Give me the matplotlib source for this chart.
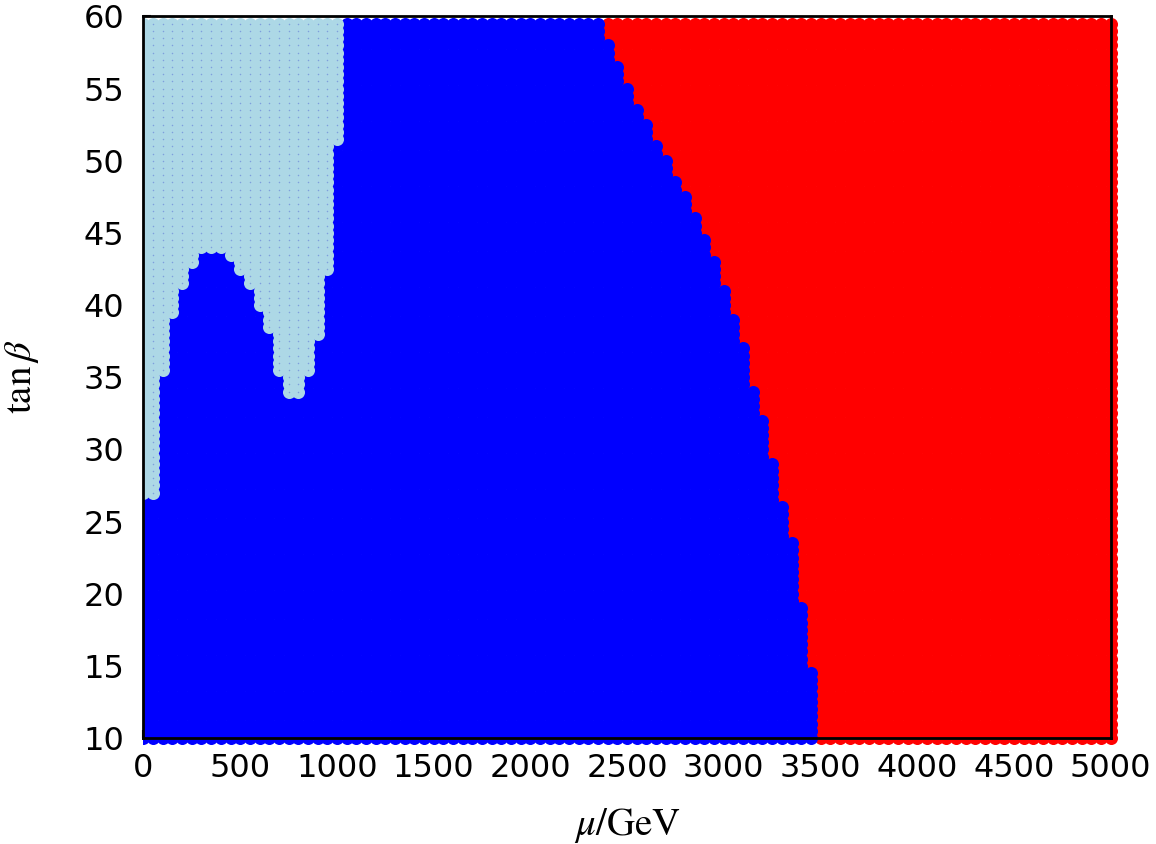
import numpy as np
import matplotlib.pyplot as plt
from matplotlib.patches import Rectangle

plt.rcParams['font.family'] = ['DejaVu Sans']
plt.rcParams['mathtext.fontset'] = 'stix'

# scan grid
mu_grid = np.arange(0, 5001, 50)
tanb_grid = np.arange(10, 60, 0.5)

# light blue region: lowest tan(beta) per mu column
lb_mu = [0, 50, 100, 150, 200, 250, 300, 350, 400, 450, 500,
         550, 600, 650, 700, 750, 800, 850, 900, 950, 1000]
lb_min_tanb = [27.0, 27.0, 35.5, 39.5, 41.5, 43.0, 44.0, 44.0, 44.0, 43.5, 42.5,
               41.5, 40.0, 38.5, 35.5, 34.0, 34.0, 35.5, 38.0, 42.5, 51.5]

# blue/red boundary: highest blue tan(beta) per mu column
blue_all_upto = 2350
edge_mu = [2400, 2450, 2500, 2550, 2600, 2650, 2700, 2750, 2800, 2850, 2900,
           2950, 3000, 3050, 3100, 3150, 3200, 3250, 3300, 3350, 3400, 3450]
edge_max_tanb = [58.0, 56.5, 55.0, 53.5, 52.5, 51.0, 50.0, 48.5, 47.5, 46.0, 44.5,
                 43.0, 41.0, 39.0, 37.0, 34.0, 32.0, 29.0, 26.0, 23.5, 19.0, 14.5]

lb_dict = dict(zip(lb_mu, lb_min_tanb))
edge_dict = dict(zip(edge_mu, edge_max_tanb))

M, T = np.meshgrid(mu_grid, tanb_grid)
M = M.ravel()
T = T.ravel()
cls = []
for m, t in zip(M, T):
    if m in lb_dict and t >= lb_dict[m]:
        cls.append('lb')
    elif m <= blue_all_upto:
        cls.append('b')
    elif m in edge_dict and t <= edge_dict[m]:
        cls.append('b')
    else:
        cls.append('r')
cls = np.array(cls)

fig = plt.figure(figsize=(11.56, 8.44), dpi=100)
ax = fig.add_axes([0.1241, 0.1256, 0.8367, 0.8549])
ax.set_axisbelow(True)

# points spill over the right and bottom edges, not the left and top
clip = Rectangle((0, -0.05), 1.05, 1.05, transform=ax.transAxes,
                 facecolor='none', edgecolor='none')
ax.add_patch(clip)

s = 88
for key, col in [('r', '#ff0000'), ('b', '#0000ff'), ('lb', '#add8e6')]:
    sel = cls == key
    sc = ax.scatter(M[sel], T[sel], s=s, c=col, marker='o', linewidths=0)
    sc.set_clip_path(clip)

sel = cls == 'lb'
dots = ax.scatter(M[sel], T[sel], s=1.2, c='#7f9fdc', marker='o', linewidths=0)
dots.set_clip_path(clip)

ax.set_xlim(0, 5000)
ax.set_ylim(10, 60)
ax.set_xticks(np.arange(0, 5001, 500))
ax.set_yticks(np.arange(10, 61, 5))
ax.tick_params(direction='in', length=6, width=1.5, labelsize=23)
ax.tick_params(axis='x', pad=11)
ax.tick_params(axis='y', pad=14)
for sp in ax.spines.values():
    sp.set_linewidth(2)

ax.set_xlabel(r'$\mu/\mathrm{GeV}$', fontsize=28, labelpad=16)
ax.set_ylabel(r'$\tan\beta$', fontsize=28, labelpad=30)

fig.savefig('out.png', dpi=100)
